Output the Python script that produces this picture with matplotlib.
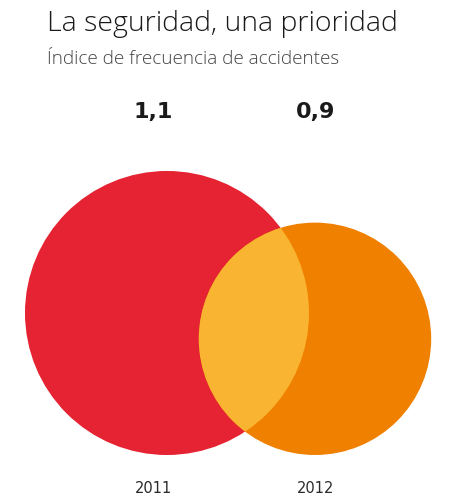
import matplotlib.pyplot as plt
from matplotlib.patches import Circle

years = ['2011', '2012']
values = [1.1, 0.9]
value_labels = ['1,1', '0,9']

colors = ['#E52332', '#F08000']
overlap_color = '#F9B531'

fig = plt.figure(figsize=(4.5, 4.98), dpi=100)
ax = fig.add_axes([0, 0, 1, 1])
ax.set_xlim(0, 450)
ax.set_ylim(498, 0)
ax.set_aspect('equal')
ax.axis('off')

# radio proporcional al valor, bases alineadas
px_per_unit = 129.1
base_y = 455
centers_x = [167, 315]

circles = []
for i, v in enumerate(values):
    r = v * px_per_unit
    c = Circle((centers_x[i], base_y - r), r, facecolor=colors[i], edgecolor='none')
    ax.add_patch(c)
    circles.append(c)

# zona de interseccion
r2 = values[1] * px_per_unit
inter = Circle((centers_x[1], base_y - r2), r2, facecolor=overlap_color, edgecolor='none')
ax.add_patch(inter)
inter.set_clip_path(circles[0])

label_x = [153, 316]
for i in range(len(years)):
    ax.text(label_x[i], 112, value_labels[i], ha='center', va='center', fontsize=16,
            fontweight='heavy', family='DejaVu Sans', color='#1a1a1a')
    ax.text(label_x[i], 488, years[i], ha='center', va='center', fontsize=10.5,
            family='DejaVu Sans', color='#2a2a2a')

ax.text(47, 31, 'La seguridad, una prioridad', ha='left', va='baseline', fontsize=20.5,
        family='Open Sans', fontweight='light', color='#1a1a1a')
ax.text(47, 64, 'Índice de frecuencia de accidentes', ha='left', va='baseline', fontsize=13.6,
        family='Open Sans', fontweight='light', color='#444444')

fig.savefig('out.png', dpi=100)
